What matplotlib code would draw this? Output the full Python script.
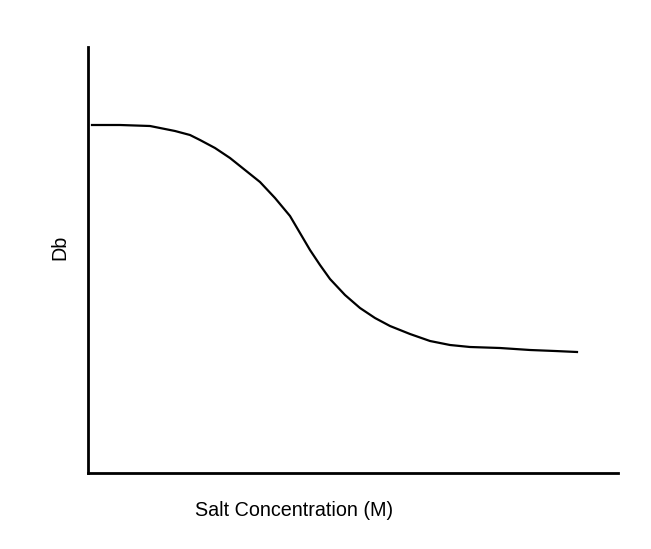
import matplotlib.pyplot as plt

# Db vs salt concentration (arbitrary units, no tick values)
salt = [4, 32, 62, 72, 87, 102, 112, 127, 142, 157, 172, 187, 202, 212, 222,
        232, 242, 257, 272, 287, 302, 322, 342, 362, 382, 412, 442, 467, 489]
db = [348, 348, 347, 345, 342, 338, 333, 325, 315, 303, 291, 275, 257, 240,
      223, 208, 194, 178, 165, 155, 147, 139, 132, 128, 126, 125, 123, 122, 121]

fig = plt.figure(figsize=(6.51, 5.49), dpi=100)
ax = fig.add_axes([88 / 651, 76 / 549, 530 / 651, 426 / 549])

ax.plot(salt, db, color="black", lw=1.6)

ax.set_xlim(0, 530)
ax.set_ylim(0, 426)
ax.set_xticks([])
ax.set_yticks([])
for side in ["top", "right"]:
    ax.spines[side].set_visible(False)
for side in ["left", "bottom"]:
    ax.spines[side].set_linewidth(2)

fig.text(294 / 651, 1 - 511 / 549, "Salt Concentration (M)", ha="center", va="center",
         fontsize=14.2, family="Liberation Sans")
fig.text(60 / 651, 1 - 247 / 549, "Db", ha="center", va="center", rotation=90,
         fontsize=14.2, family="Liberation Sans")

fig.savefig("out.png", dpi=100)
